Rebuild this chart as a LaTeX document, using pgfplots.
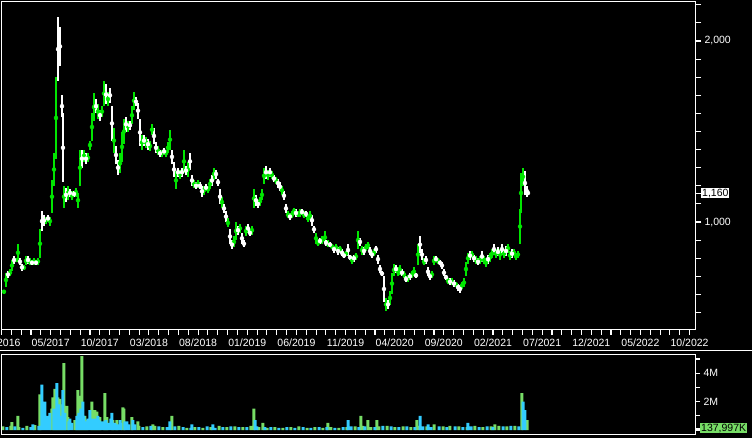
\documentclass[border=0pt]{standalone}
\usepackage{pgfplots}
\pgfplotsset{compat=1.18}
\usepackage{pgfplotstable}
\usepackage{fontspec}
\setmainfont{Liberation Sans}
\definecolor{cgreen}{HTML}{00E600}
\definecolor{vgreen}{HTML}{77DD66}
\definecolor{vcyan}{HTML}{33CCFF}

% price candles: px = horizontal position, lo/hi = range
\pgfplotstableread{
px lo hi
4 605 625
6 640 720
10 700 740
12 730 790
16 780 800
18 780 880
24 735 760
26 760 810
30 760 800
34 765 800
38 765 800
40 800 960
46 990 1030
50 980 1030
52 1050 1230
54 1200 1380
56 1350 1800
64 1080 1200
68 1120 1200
72 1120 1170
76 1140 1190
78 1080 1160
80 1200 1400
84 1330 1400
88 1330 1380
90 1400 1450
92 1450 1600
94 1560 1710
98 1570 1650
102 1580 1640
104 1640 1780
108 1640 1720
114 1380 1520
120 1270 1380
122 1330 1500
124 1430 1570
128 1500 1560
132 1540 1640
134 1620 1720
142 1400 1480
146 1410 1470
150 1390 1450
152 1480 1540
158 1370 1420
162 1360 1400
166 1360 1400
168 1380 1440
170 1400 1510
176 1180 1280
180 1240 1290
184 1270 1400
188 1250 1330
194 1190 1230
198 1190 1230
204 1150 1200
208 1160 1200
210 1180 1240
214 1230 1300
222 1080 1140
228 970 1020
234 860 920
236 900 1000
240 940 990
246 920 980
252 930 980
254 1080 1180
260 1090 1140
262 1120 1180
264 1210 1300
268 1230 1290
272 1240 1280
276 1210 1250
282 1150 1200
288 1020 1060
292 1020 1060
294 1040 1080
298 1030 1060
300 1030 1070
304 1020 1060
308 1000 1040
310 1010 1060
316 880 940
318 870 900
322 880 920
325 880 950
328 860 900
332 850 880
336 840 880
340 830 870
346 810 840
352 770 810
356 790 830
358 850 950
362 820 870
366 840 880
368 850 890
374 810 850
386 510 580
390 540 620
392 600 720
394 700 770
398 700 750
400 710 760
404 690 730
408 670 710
412 690 730
414 700 750
418 760 880
424 760 800
432 690 730
434 760 810
438 770 800
448 660 690
452 650 690
456 640 670
462 630 670
464 640 690
466 700 780
468 770 830
472 800 840
476 770 810
480 770 810
484 770 810
486 750 800
490 780 830
492 800 850
496 800 850
500 790 850
504 800 850
508 830 880
510 790 840
514 810 850
516 790 830
518 800 840
520 880 1070
521 1050 1270
523 1200 1300
}\greencandles

\pgfplotstableread{
px lo hi
1 600 615
8 690 730
14 770 810
20 760 800
22 730 770
28 770 810
32 760 790
36 760 790
42 950 1060
44 980 1040
48 1000 1040
58 1780 2130
60 1860 2080
62 1580 1700
63 1220 1600
66 1110 1190
70 1140 1180
74 1140 1170
82 1300 1400
86 1320 1380
96 1600 1680
100 1560 1620
106 1650 1760
110 1660 1740
112 1450 1640
116 1320 1420
118 1260 1340
126 1500 1580
130 1510 1560
136 1640 1690
138 1570 1660
140 1420 1570
144 1420 1480
148 1400 1460
154 1430 1520
156 1380 1440
160 1360 1400
164 1370 1410
172 1320 1400
174 1250 1330
178 1250 1300
182 1250 1300
186 1260 1310
190 1290 1380
192 1200 1260
196 1180 1220
200 1180 1220
202 1140 1200
206 1170 1210
212 1200 1260
216 1240 1290
218 1200 1240
220 1100 1180
224 1050 1100
226 1000 1060
230 880 960
232 850 900
238 930 980
242 880 940
244 860 900
248 940 990
250 920 960
256 1090 1150
258 1080 1120
266 1240 1310
270 1250 1300
274 1220 1260
278 1190 1240
280 1170 1220
284 1120 1170
286 1050 1100
290 1010 1050
296 1030 1070
302 1040 1070
306 1030 1060
312 980 1040
314 940 980
320 880 910
326 870 900
330 860 890
334 830 870
338 820 860
342 810 850
344 800 830
348 810 880
350 790 820
354 780 820
360 870 910
364 820 860
370 820 860
372 800 840
376 830 870
378 770 820
380 720 760
382 700 730
384 560 700
388 520 570
396 720 760
402 700 740
406 670 700
410 680 720
416 690 720
420 830 920
422 790 850
426 770 810
428 700 750
430 680 720
436 780 810
440 760 790
442 740 780
444 700 740
446 680 710
450 650 690
454 640 680
458 620 660
460 610 650
470 790 840
474 780 820
478 760 800
482 780 840
488 770 820
494 820 880
498 810 860
502 820 880
506 810 870
512 800 850
525 1150 1280
527 1140 1200
528 1150 1170
}\whitecandles

% volume (millions)
\pgfplotstableread{
px v
3 0.25
11 0.3
12 0.55
18 1.0
19 0.2
27 0.3
35 0.35
40 2.5
52 1.5
53 2.3
55 2.9
58 2.3
60 2.2
62 1.8
64 4.7
67 1.7
68 0.9
75 0.7
78 2.8
80 2.4
82 5.2
85 1.0
87 0.7
92 2.0
95 1.4
97 1.3
100 0.9
105 2.6
107 0.9
113 0.7
117 0.7
123 1.6
124 1.5
132 0.9
138 0.6
139 0.3
147 0.25
153 0.4
155 0.3
163 0.2
172 1.0
179 0.3
187 0.15
195 0.2
203 0.15
211 0.2
219 0.3
227 0.2
235 0.25
243 0.2
251 0.3
254 1.5
259 0.2
263 0.5
267 0.15
275 0.2
283 0.15
291 0.2
299 0.25
307 0.15
315 0.2
323 0.15
328 0.5
331 0.2
339 0.15
347 0.2
355 0.25
361 1.0
363 0.3
368 0.7
371 0.2
377 0.7
379 0.25
387 0.3
395 0.2
403 0.25
411 0.2
417 0.7
419 0.3
427 0.25
434 0.4
443 0.25
450 0.3
459 0.25
467 0.2
475 0.3
483 0.2
491 0.25
495 0.4
499 0.3
507 0.25
515 0.3
522 2.6
527 0.7
}\volgreen

\pgfplotstableread{
px v
7 0.2
15 0.25
23 0.15
31 0.2
33 0.4
39 0.3
42 3.2
43 1.3
45 2.0
47 1.0
50 1.2
54 1.5
57 3.3
59 1.8
61 1.0
63 2.8
65 1.2
69 0.6
70 0.8
72 0.5
77 1.0
79 1.2
81 1.5
83 2.0
84 1.0
86 0.6
88 0.8
90 1.4
93 0.8
96 0.8
98 1.0
99 0.7
102 0.6
104 0.6
106 0.7
109 0.5
111 0.8
112 1.2
115 0.5
118 0.4
120 0.7
121 0.5
125 0.6
127 0.6
129 0.4
133 0.7
135 0.4
143 0.2
151 0.3
159 0.25
167 0.2
170 0.6
175 0.25
183 0.2
191 0.15
192 0.4
199 0.2
207 0.25
213 0.4
215 0.15
223 0.2
231 0.25
239 0.2
247 0.2
255 0.7
257 0.25
265 0.2
271 0.2
279 0.15
287 0.2
295 0.15
303 0.2
311 0.15
319 0.2
327 0.2
335 0.15
343 0.2
348 0.7
351 0.25
359 0.2
365 0.25
375 0.2
383 0.3
391 0.25
399 0.2
407 0.25
415 0.2
420 1.0
423 0.25
428 0.4
431 0.2
439 0.25
447 0.2
455 0.25
463 0.2
468 0.5
471 0.25
479 0.2
487 0.25
493 0.2
503 0.25
511 0.3
519 0.25
523 2.0
525 1.4
}\volcyan

\begin{document}
\begin{tikzpicture}
\fill[black] (0pt,0pt) rectangle (752pt,438pt);
\useasboundingbox (0pt,0pt) rectangle (752pt,438pt);
\draw[white, line width=0.8pt] (0pt,88pt) -- (752pt,88pt);
% price panel
\begin{axis}[
  scale only axis, width=694pt, height=328pt,
  at={(1pt,109pt)}, anchor=south west,
  axis on top,
  axis line style={white, line width=0.8pt},
  major tick length=6pt, minor tick length=6pt,
  tick style={white, line width=1.1pt},
  ticklabel style={text=white, font=\fontsize{10.5}{12}\selectfont},
  /pgf/number format/assume math mode=true,
  xmin=-0.05, xmax=70.55,
  ymin=409, ymax=2221,
  xtick={0,5,...,70},
  minor x tick num=4,
  xticklabels={12/2016,05/2017,10/2017,03/2018,08/2018,01/2019,06/2019,11/2019,04/2020,09/2020,02/2021,07/2021,12/2021,05/2022,10/2022},
  xtick pos=left, xtick align=outside,
  ytick={1000,2000},
  yticklabels={{1,000},{2,000}},
  minor ytick={500,600,...,2200},
  ytick pos=right, yticklabel pos=right, ytick align=outside,
  extra y ticks={1160},
  extra y tick labels={1{,}160},
  extra y tick style={yticklabel style={fill=white, text=black, inner sep=1pt}},
]
\addplot[cgreen, only marks, mark=none,
  error bars/.cd, y dir=both, y explicit, error mark=none,
  error bar style={cgreen, line width=2.4pt, line cap=butt}]
  table[x expr=(\thisrow{px}-1.5)/9.83, y expr=(\thisrow{lo}+\thisrow{hi})/2, y error expr=(\thisrow{hi}-\thisrow{lo})/2] {\greencandles};
\addplot[white, only marks, mark=none,
  error bars/.cd, y dir=both, y explicit, error mark=none,
  error bar style={white, line width=2.4pt, line cap=butt}]
  table[x expr=(\thisrow{px}-1.5)/9.83, y expr=(\thisrow{lo}+\thisrow{hi})/2, y error expr=(\thisrow{hi}-\thisrow{lo})/2] {\whitecandles};
\end{axis}
% volume panel
\begin{axis}[
  scale only axis, width=694pt, height=80pt,
  at={(1pt,4pt)}, anchor=south west,
  axis on top,
  axis line style={white, line width=0.8pt},
  major tick length=5pt, minor tick length=5pt,
  tick style={white, line width=1.1pt},
  ticklabel style={text=white, font=\fontsize{10.5}{12}\selectfont},
  xmin=-0.05, xmax=70.55,
  ymin=-0.28, ymax=5.35,
  xtick=\empty,
  ytick={2,4}, yticklabels={2M,4M},
  minor ytick={0,1,3,5},
  ytick pos=right, yticklabel pos=right, ytick align=outside,
  extra y ticks={0.138},
  extra y tick labels={137{,}997K},
  extra y tick style={yticklabel style={fill=vgreen, text=black, inner sep=1pt}},
]
\addplot[ybar, bar width=3pt, bar shift=0pt, fill=vgreen, draw=none]
  table[x expr=(\thisrow{px}-1.5)/9.83, y=v] {\volgreen};
\addplot[ybar, bar width=3pt, bar shift=0pt, fill=vcyan, draw=none]
  table[x expr=(\thisrow{px}-1.5)/9.83, y=v] {\volcyan};
\end{axis}
\end{tikzpicture}
\end{document}
